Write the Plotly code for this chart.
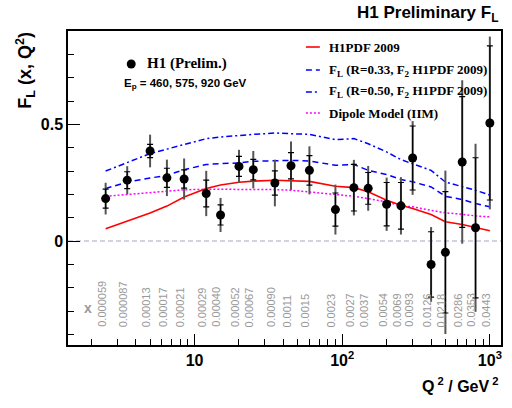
import numpy as np
import plotly.graph_objects as go

# ---------------- data ----------------
q2 = [2.5, 3.5, 5, 6.5, 8.5, 12, 15, 20, 25, 35, 45, 60, 90, 120, 150, 200, 250, 300, 400, 500, 650, 800, 1000]
x_labels = ["0.000059", "0.000087", "0.00013", "0.00017", "0.00021", "0.00029", "0.00040", "0.00052",
            "0.00067", "0.00090", "0.0011", "0.0015", "0.0023", "0.0027", "0.0037", "0.0054", "0.0069",
            "0.0093", "0.0126", "0.0218", "0.0286", "0.0353", "0.0443"]
fl = [0.182, 0.261, 0.386, 0.271, 0.266, 0.204, 0.112, 0.320, 0.306, 0.249, 0.323, 0.303, 0.135, 0.229,
      0.226, 0.158, 0.151, 0.356, -0.100, -0.048, 0.339, 0.057, 0.506]
stat_err = [0.041, 0.036, 0.028, 0.041, 0.039, 0.057, 0.043, 0.043, 0.044, 0.052, 0.056, 0.063, 0.071, 0.10,
            0.068, 0.093, 0.10, 0.137, 0.14, 0.26, 0.28, 0.30, 0.33]
tot_err = [0.068, 0.06, 0.07, 0.078, 0.088, 0.097, 0.073, 0.071, 0.08, 0.10, 0.104, 0.103, 0.107, 0.119,
           0.096, 0.114, 0.123, 0.158, 0.16, 0.35, 0.35, 0.36, 0.37]
h1pdf = [0.053, 0.086, 0.12, 0.15, 0.189, 0.225, 0.24, 0.252, 0.257, 0.261, 0.26, 0.256, 0.235, 0.229,
         0.211, 0.175, 0.154, 0.14, 0.114, 0.083, 0.071, 0.058, 0.044]
fl_r033 = [0.225, 0.253, 0.27, 0.282, 0.306, 0.328, 0.332, 0.335, 0.342, 0.345, 0.346, 0.343, 0.325, 0.328,
           0.303, 0.285, 0.264, 0.254, 0.232, 0.192, 0.178, 0.161, 0.147]
fl_r050 = [0.30, 0.337, 0.375, 0.394, 0.415, 0.439, 0.446, 0.453, 0.457, 0.463, 0.46, 0.457, 0.435, 0.439,
           0.417, 0.382, 0.349, 0.332, 0.303, 0.253, 0.235, 0.218, 0.197]
dipole = [0.192, 0.2, 0.208, 0.214, 0.22, 0.222, 0.222, 0.222, 0.222, 0.221, 0.218, 0.211, 0.201, 0.192,
          0.182, 0.168, 0.151, 0.147, 0.132, 0.121, 0.115, 0.108, 0.104]

x_major = [10, 100, 1000]
x_major_text = ["10", "10<sup>2</sup>", "10<sup>3</sup>"]

SANS = "Liberation Sans, Arial, sans-serif"
SERIF = "Liberation Serif, Times New Roman, serif"

fig = go.Figure()

# theory curves
fig.add_trace(go.Scatter(x=q2, y=dipole, mode="lines", line=dict(color="#ff00ff", width=1.5, dash="2px,2px"),
                         showlegend=False, hoverinfo="skip"))
fig.add_trace(go.Scatter(x=q2, y=fl_r050, mode="lines", line=dict(color="#0000ff", width=1.5, dash="6px,3px,2px,3px"),
                         showlegend=False, hoverinfo="skip"))
fig.add_trace(go.Scatter(x=q2, y=fl_r033, mode="lines", line=dict(color="#0000ff", width=1.5, dash="6px,4px"),
                         showlegend=False, hoverinfo="skip"))
fig.add_trace(go.Scatter(x=q2, y=h1pdf, mode="lines", line=dict(color="#ff0000", width=1.6),
                         showlegend=False, hoverinfo="skip"))

# total errors (grey)
fig.add_trace(go.Scatter(x=q2, y=fl, mode="markers", marker=dict(size=1, color="rgba(0,0,0,0)"),
                         error_y=dict(type="data", array=tot_err, color="#555555", thickness=2, width=0),
                         showlegend=False, hoverinfo="skip"))
# stat errors + points
fig.add_trace(go.Scatter(x=q2, y=fl, mode="markers", marker=dict(size=9, color="black"),
                         error_y=dict(type="data", array=stat_err, color="black", thickness=1.2, width=3),
                         showlegend=False))

# pixel->paper helpers for decorations
L, R, T, B = 68, 9, 31, 63
W, H = 512, 408
pw, ph = W - L - R, H - T - B


def px(xp):
    return (xp - L) / pw


def py(yp):
    return (H - B - yp) / ph


shapes = []
annotations = []

# zero line
shapes.append(dict(type="line", xref="paper", yref="y", x0=0, x1=1, y0=0, y1=0,
                   line=dict(color="#c4c4d8", width=1.5, dash="5px,3px"), layer="below"))

# x value labels
for q, lab in zip(q2, x_labels):
    annotations.append(dict(x=np.log10(q), y=-0.377, xref="x", yref="y", text=lab, showarrow=False,
                            textangle=-90, xanchor="center", yanchor="bottom", xshift=-4,
                            font=dict(family=SANS, size=11, color="#999999")))
annotations.append(dict(x=px(88), y=py(308), xref="paper", yref="paper", text="x", showarrow=False,
                        xanchor="center", yanchor="middle",
                        font=dict(family=SANS, size=14, color="#999999", weight="bold")))

# legend (right)
leg_items = [
    ("H1PDF 2009", dict(color="#ff0000", width=1.6), 47),
    ("F<sub>L</sub> (R=0.33, F<sub>2</sub> H1PDF 2009)", dict(color="#0000ff", width=1.5, dash="6px,4px"), 70),
    ("F<sub>L</sub> (R=0.50, F<sub>2</sub> H1PDF 2009)", dict(color="#0000ff", width=1.5, dash="6px,3px,2px,3px"), 92),
    ("Dipole Model (IIM)", dict(color="#ff00ff", width=1.5, dash="2px,2px"), 113),
]
for text, ln, yy in leg_items:
    shapes.append(dict(type="line", xref="paper", yref="paper", x0=px(307), x1=px(321), y0=py(yy), y1=py(yy), line=ln))
    annotations.append(dict(x=px(328), y=py(yy), xref="paper", yref="paper", text=text, showarrow=False,
                            xanchor="left", yanchor="middle",
                            font=dict(family=SERIF, size=13, color="black", weight="bold")))

# legend (left)
shapes.append(dict(type="circle", xref="paper", yref="paper", x0=px(127), x1=px(136), y0=py(68.5), y1=py(59.5),
                   fillcolor="black", line=dict(color="black", width=0)))
annotations.append(dict(x=px(145), y=py(64), xref="paper", yref="paper", text="H1 (Prelim.)", showarrow=False,
                        xanchor="left", yanchor="middle", font=dict(family=SERIF, size=15, color="black", weight="bold")))
annotations.append(dict(x=px(122), y=py(84), xref="paper", yref="paper", text="E<sub>p</sub> = 460, 575, 920 GeV",
                        showarrow=False, xanchor="left", yanchor="middle",
                        font=dict(family=SANS, size=11.5, color="black", weight="bold")))

# title
annotations.append(dict(x=px(502), y=py(14), xref="paper", yref="paper", text="H1 Preliminary F<sub>L</sub>",
                        showarrow=False, xanchor="right", yanchor="middle",
                        font=dict(family=SANS, size=17, color="black", weight="bold")))
# axis titles
annotations.append(dict(x=px(25), y=py(30), xref="paper", yref="paper", text="F<sub>L</sub> (x, Q<sup>2</sup>)",
                        showarrow=False, textangle=-90, xanchor="center", yanchor="top",
                        font=dict(family=SANS, size=18, color="black", weight="bold")))
annotations.append(dict(x=px(503), y=py(385), xref="paper", yref="paper", text="Q<sup> 2</sup> / GeV<sup> 2</sup>",
                        showarrow=False, xanchor="right", yanchor="middle",
                        font=dict(family=SANS, size=16, color="black", weight="bold")))

minor_x = [m * 10 ** e for e in range(0, 4) for m in range(2, 10) if 1.3 < m * 10 ** e < 1200]

fig.update_layout(
    width=W, height=H, margin=dict(l=L, r=R, t=T, b=B),
    paper_bgcolor="white", plot_bgcolor="white",
    shapes=shapes, annotations=annotations, showlegend=False,
    xaxis=dict(type="log", range=[np.log10(1.39), np.log10(1190)], showgrid=False, zeroline=False,
               showline=True, linecolor="black", linewidth=1.5, mirror=True,
               tickmode="array", tickvals=x_major, ticktext=x_major_text,
               ticks="inside", ticklen=11, tickcolor="black", tickwidth=1,
               minor=dict(tickmode="array", tickvals=minor_x, ticks="inside", ticklen=6, tickcolor="black", showgrid=False),
               tickfont=dict(family=SANS, size=16, color="black", weight="bold")),
    yaxis=dict(range=[-0.445, 0.9], showgrid=False, zeroline=False,
               showline=True, linecolor="black", linewidth=1.5, mirror=True,
               tickmode="array", tickvals=[0, 0.5], ticktext=["0", "0.5"],
               ticks="inside", ticklen=12, tickcolor="black", tickwidth=1,
               minor=dict(tickmode="array", tickvals=[-0.4, -0.3, -0.2, -0.1, 0.1, 0.2, 0.3, 0.4, 0.6, 0.7, 0.8],
                          ticks="inside", ticklen=6, tickcolor="black", showgrid=False),
               tickfont=dict(family=SANS, size=16, color="black", weight="bold")),
)

fig.write_html("out.html", config={"displayModeBar": False},
               post_script="document.body.style.margin='0';document.body.style.overflow='hidden';")
